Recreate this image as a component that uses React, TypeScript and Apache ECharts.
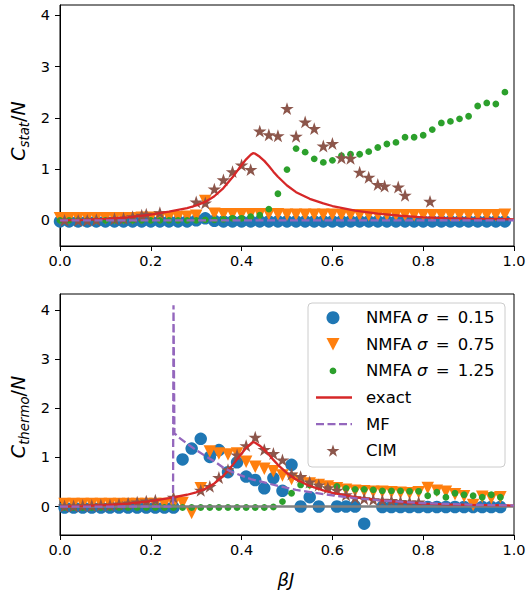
import React, { useEffect, useRef } from "react";
import * as echarts from "echarts";

const FONT = "DejaVu Sans";

const C_BLUE = "#1f77b4";
const C_ORANGE = "#ff7f0e";
const C_GREEN = "#2ca02c";
const C_RED = "#d62728";
const C_PURPLE = "#9467bd";
const C_BROWN = "#8c564b";
const C_GRAY = "#7f7f7f";

// βJ grid of the statistical estimator (top panel)
const statBeta = [
  0, 0.02, 0.04, 0.06, 0.08, 0.1, 0.12, 0.14, 0.16, 0.18,
  0.2, 0.22, 0.24, 0.26, 0.28, 0.3, 0.32, 0.34, 0.36, 0.38,
  0.4, 0.42, 0.44, 0.46, 0.48, 0.5, 0.52, 0.54, 0.56, 0.58,
  0.6, 0.62, 0.64, 0.66, 0.68, 0.7, 0.72, 0.74, 0.76, 0.78,
  0.8, 0.82, 0.84, 0.86, 0.88, 0.9, 0.92, 0.94, 0.96, 0.98,
];

// βJ grid of the thermodynamic estimator (bottom panel, mid points)
const thermoBeta = [
  0.01, 0.03, 0.05, 0.07, 0.09, 0.11, 0.13, 0.15, 0.17, 0.19,
  0.21, 0.23, 0.25, 0.27, 0.29, 0.31, 0.33, 0.35, 0.37, 0.39,
  0.41, 0.43, 0.45, 0.47, 0.49, 0.51, 0.53, 0.55, 0.57, 0.59,
  0.61, 0.63, 0.65, 0.67, 0.69, 0.71, 0.73, 0.75, 0.77, 0.79,
  0.81, 0.83, 0.85, 0.87, 0.89, 0.91, 0.93, 0.95, 0.97,
];

// C_stat / N
const statNmfa015 = [
  -0.02, -0.02, -0.02, -0.02, -0.02, -0.02, -0.02, -0.02, -0.02, -0.02,
  -0.02, -0.02, -0.02, -0.02, -0.02, 0.0, 0.04, -0.01, -0.02, -0.02,
  -0.02, -0.02, -0.02, -0.02, -0.02, -0.02, -0.02, -0.02, -0.02, -0.02,
  -0.02, -0.02, -0.02, -0.02, -0.02, -0.02, -0.02, -0.02, -0.02, -0.02,
  -0.02, -0.02, -0.02, -0.02, -0.02, -0.02, -0.02, -0.02, -0.02, -0.02,
];
const statNmfa075 = [
  0.04, 0.04, 0.04, 0.04, 0.04, 0.04, 0.04, 0.04, 0.04, 0.05,
  0.05, 0.05, 0.06, 0.06, 0.07, 0.09, 0.38, 0.13, 0.12, 0.12,
  0.12, 0.12, 0.12, 0.12, 0.12, 0.11, 0.11, 0.11, 0.11, 0.11,
  0.11, 0.1, 0.1, 0.1, 0.1, 0.1, 0.1, 0.1, 0.1, 0.1,
  0.1, 0.1, 0.1, 0.1, 0.1, 0.1, 0.1, 0.1, 0.1, 0.11,
];
const statNmfa125 = [
  0.0, 0.0, 0.0, 0.0, 0.0, 0.0, 0.0, 0.0, 0.0, 0.0,
  0.0, 0.0, 0.0, 0.0, 0.0, 0.0, 0.01, 0.01, 0.02, 0.04,
  0.04, 0.07, 0.1, 0.22, 0.52, 0.99, 1.4, 1.33, 1.2, 1.13,
  1.17, 1.26, 1.29, 1.29, 1.34, 1.42, 1.49, 1.52, 1.62, 1.62,
  1.66, 1.77, 1.9, 1.93, 1.98, 2.03, 2.23, 2.29, 2.27, 2.5,
];
const statCimBeta = [
  0.01, 0.04, 0.06, 0.08, 0.12, 0.14, 0.16, 0.18, 0.19, 0.22,
  0.3, 0.32, 0.34, 0.36, 0.38, 0.4, 0.42, 0.44, 0.46, 0.48,
  0.5, 0.52, 0.54, 0.56, 0.58, 0.6, 0.62, 0.64, 0.66, 0.68,
  0.7, 0.715, 0.745, 0.76, 0.815,
];
const statCim = [
  0.0, 0.0, 0.0, 0.01, 0.03, 0.04, 0.07, 0.1, 0.12, 0.15,
  0.36, 0.34, 0.61, 0.79, 0.95, 1.08, 0.99, 1.74, 1.67, 1.65,
  2.18, 1.64, 1.92, 1.79, 1.45, 1.5, 1.22, 1.21, 0.94, 0.84,
  0.7, 0.67, 0.65, 0.49, 0.37,
];
const statMfBeta = [0, 1];
const statMf = [0, 0];

// exact solution, shared by both panels
const exactBeta = [
  0, 0.05, 0.1, 0.15, 0.2, 0.24, 0.28, 0.3, 0.32, 0.34,
  0.36, 0.38, 0.39, 0.4, 0.41, 0.42, 0.425, 0.43, 0.44, 0.45,
  0.46, 0.47, 0.48, 0.5, 0.52, 0.55, 0.58, 0.6, 0.65, 0.7,
  0.75, 0.8, 0.85, 0.9, 0.95, 1.0,
];
const exactC = [
  0, 0.01, 0.03, 0.06, 0.11, 0.17, 0.24, 0.29, 0.36, 0.47,
  0.63, 0.84, 0.96, 1.08, 1.19, 1.28, 1.31, 1.3, 1.24, 1.16,
  1.06, 0.95, 0.85, 0.68, 0.55, 0.42, 0.33, 0.28, 0.19, 0.13,
  0.09, 0.06, 0.045, 0.035, 0.03, 0.02,
];

// C_thermo / N
const thermoNmfa015 = [
  -0.02, -0.02, -0.02, -0.02, -0.02, -0.02, -0.02, -0.02, -0.02, -0.02,
  -0.02, -0.02, -0.02, 0.96, 1.18, 1.38, 1.01, 1.15, 0.7, 0.9,
  0.61, 0.54, 0.37, 0.58, 0.32, 0.85, 0.0, 0.19, 0.0, null,
  0.0, 0.0, 0.0, -0.35, null, -0.01, -0.01, -0.01, -0.01, -0.01,
  -0.01, -0.01, -0.01, -0.01, -0.01, -0.01, -0.01, -0.01, -0.01,
];
const thermoNmfa075 = [
  0.05, 0.05, 0.05, 0.05, 0.05, 0.05, 0.05, 0.05, 0.05, 0.05,
  0.05, 0.05, 0.05, 0.07, -0.13, 0.37, 1.12, 1.08, 1.06, 1.08,
  0.91, 0.81, 0.77, 0.72, 0.63, 0.56, 0.51, 0.47, 0.44, 0.41,
  0.37, 0.34, 0.32, 0.31, 0.3, 0.3, 0.29, 0.28, 0.27, 0.29,
  0.38, 0.32, 0.3, 0.25, 0.21, 0.03, 0.2, 0.17, 0.19,
];
const thermoNmfa125 = [
  -0.02, -0.02, -0.02, -0.02, -0.02, -0.02, -0.02, -0.02, -0.02, -0.02,
  -0.02, -0.02, -0.02, -0.02, -0.02, -0.02, -0.02, -0.02, -0.02, -0.02,
  -0.02, -0.02, -0.02, -0.01, 0.1, 0.27, 0.44, 0.44, 0.41, 0.37,
  0.41, 0.37, 0.35, 0.35, 0.34, 0.32, 0.32, 0.32, 0.31, 0.31,
  0.22, 0.29, 0.19, 0.27, 0.24, 0.22, 0.19, 0.24, 0.19,
];
const thermoCim = [
  0.01, 0.01, 0.02, 0.02, 0.03, 0.03, 0.05, 0.07, 0.09, 0.11,
  0.13, null, 0.19, null, null, 0.33, 0.41, 0.59, 0.75, 1.05,
  1.24, 1.41, 1.16, 1.08, 0.95, 0.66, 0.61, 0.5, 0.44, 0.38,
  0.33, 0.24, 0.18, 0.16, 0.14, 0.13, 0.12, 0.1, 0.09, 0.09,
  null, null, null, null, null, null, null, null, null,
];
const thermoMfBeta = [
  0, 0.249, 0.25, 0.252, 0.26, 0.28, 0.3, 0.32, 0.34, 0.36,
  0.38, 0.4, 0.42, 0.45, 0.48, 0.52, 0.56, 0.6, 0.65, 0.7,
  0.75, 0.8, 0.85, 0.9, 0.95, 1.0,
];
const thermoMf = [
  0, 0, 4.1, 1.5, 1.42, 1.28, 1.15, 1.03, 0.92, 0.79,
  0.7, 0.63, 0.56, 0.49, 0.42, 0.34, 0.28, 0.23, 0.17, 0.13,
  0.1, 0.07, 0.055, 0.04, 0.03, 0.02,
];
const zeroBeta = [0, 1];
const zeroC = [0, 0];

const yTicks = [0, 1, 2, 3, 4];

const legendLabels = [
  ["NMFA ", "σ", "\u2002=\u20020.15"],
  ["NMFA ", "σ", "\u2002=\u20020.75"],
  ["NMFA ", "σ", "\u2002=\u20021.25"],
  ["exact", "", ""],
  ["MF", "", ""],
  ["CIM", "", ""],
];

const STAR_PATH =
  "path://M0,-10L2.245,-3.09L9.511,-3.09L3.633,1.18L5.878,8.09L0,3.82L-5.878,8.09L-3.633,1.18L-9.511,-3.09L-2.245,-3.09Z";

function pairs(xs: number[], ys: (number | null)[]) {
  const out: number[][] = [];
  xs.forEach((x, i) => {
    const y = ys[i];
    if (y !== null && y !== undefined) out.push([x, y]);
  });
  return out;
}

function starPoints(cx: number, cy: number, R: number) {
  const pts: number[][] = [];
  const r = R * 0.382;
  for (let k = 0; k < 10; k++) {
    const a = -Math.PI / 2 + (k * Math.PI) / 5;
    const rr = k % 2 === 0 ? R : r;
    pts.push([cx + rr * Math.cos(a), cy + rr * Math.sin(a)]);
  }
  return pts;
}

function xAxisOf(gridIndex: number) {
  return {
    type: "value",
    gridIndex,
    min: 0,
    max: 1,
    interval: 0.2,
    axisLine: { show: true, onZero: false, lineStyle: { color: "#000", width: 1 } },
    axisTick: { show: true, inside: false, length: 5, lineStyle: { color: "#000", width: 1 } },
    axisLabel: {
      color: "#000",
      fontFamily: FONT,
      fontSize: 14.5,
      margin: 7,
      showMaxLabel: true,
      showMinLabel: true,
      formatter: (v: number) => v.toFixed(1),
    },
    splitLine: { show: false },
  };
}

function yAxisOf(gridIndex: number, min: number, max: number) {
  return {
    type: "value",
    gridIndex,
    min,
    max,
    axisLine: { show: true, onZero: false, lineStyle: { color: "#000", width: 1 } },
    axisTick: {
      show: true,
      inside: false,
      length: 5,
      customValues: yTicks,
      lineStyle: { color: "#000", width: 1 },
    },
    axisLabel: {
      color: "#000",
      fontFamily: FONT,
      fontSize: 14.5,
      margin: 10,
      customValues: yTicks,
    },
    splitLine: { show: false },
  };
}

function scatter(idx: number, data: number[][], color: string, symbol: string, size: any, rotate = 0) {
  return {
    type: "scatter",
    xAxisIndex: idx,
    yAxisIndex: idx,
    data,
    symbol,
    symbolSize: size,
    symbolRotate: rotate,
    itemStyle: { color, opacity: 1 },
    emphasis: { disabled: true },
    silent: true,
  };
}

function line(idx: number, data: number[][], color: string, width: number, dash: any = "solid") {
  return {
    type: "line",
    xAxisIndex: idx,
    yAxisIndex: idx,
    data,
    symbol: "none",
    showSymbol: false,
    smooth: false,
    lineStyle: { color, width, type: dash },
    emphasis: { disabled: true },
    silent: true,
  };
}

function yLabel(x: number, y: number, sub: string) {
  return {
    type: "text",
    x,
    y,
    rotation: Math.PI / 2,
    style: {
      text: `{i|C}{s|${sub}}{r|/}{i|N}`,
      align: "center",
      verticalAlign: "middle",
      rich: {
        i: { fontFamily: FONT, fontStyle: "italic", fontSize: 19, lineHeight: 26, fill: "#000" },
        r: { fontFamily: FONT, fontSize: 19, lineHeight: 26, fill: "#000" },
        s: {
          fontFamily: FONT,
          fontStyle: "italic",
          fontSize: 13.3,
          lineHeight: 13,
          verticalAlign: "bottom",
          fill: "#000",
        },
      },
    },
  };
}

function legendGraphic() {
  const x0 = 308;
  const y0 = 303;
  const w = 197;
  const h = 164;
  const mx = 333;
  const tx = 366;
  const rows = legendLabels.map((_, k) => 317.7 + k * 26.6);
  const children: any[] = [
    {
      type: "rect",
      shape: { x: x0, y: y0, width: w, height: h, r: 4 },
      style: { fill: "rgba(255,255,255,0.8)", stroke: "#cccccc", lineWidth: 1 },
    },
    { type: "circle", shape: { cx: mx, cy: rows[0], r: 6.5 }, style: { fill: C_BLUE } },
    {
      type: "polygon",
      shape: {
        points: [
          [mx - 6.5, rows[1] - 6.3],
          [mx + 6.5, rows[1] - 6.3],
          [mx, rows[1] + 6.3],
        ],
      },
      style: { fill: C_ORANGE },
    },
    { type: "circle", shape: { cx: mx, cy: rows[2], r: 3.4 }, style: { fill: C_GREEN } },
    {
      type: "line",
      shape: { x1: mx - 17, y1: rows[3], x2: mx + 19, y2: rows[3] },
      style: { stroke: C_RED, lineWidth: 2.3 },
    },
    {
      type: "line",
      shape: { x1: mx - 17, y1: rows[4], x2: mx + 19, y2: rows[4] },
      style: { stroke: C_PURPLE, lineWidth: 2.3, lineDash: [8, 3.5] },
    },
    {
      type: "polygon",
      shape: { points: starPoints(mx, rows[5] + 0.5, 6.8) },
      style: { fill: C_BROWN },
    },
  ];
  legendLabels.forEach((parts, k) => {
    children.push({
      type: "text",
      x: tx,
      y: rows[k],
      style: {
        text: `{a|${parts[0]}}` + (parts[1] ? `{b|${parts[1]}}{a|${parts[2]}}` : ""),
        verticalAlign: "middle",
        align: "left",
        rich: {
          a: { fontFamily: FONT, fontSize: 16.5, fill: "#000" },
          b: { fontFamily: FONT, fontSize: 16.5, fontStyle: "italic", fill: "#000" },
        },
      },
    });
  });
  return { type: "group", children };
}

export default function App() {
  const ref = useRef<HTMLDivElement>(null);

  useEffect(() => {
    if (!ref.current) return;
    const chart = echarts.init(ref.current, null, { renderer: "svg" });

    const option: any = {
      animation: false,
      backgroundColor: "#fff",
      grid: [
        { left: 60, top: 5, width: 454, height: 241, show: true, borderColor: "#000", borderWidth: 1, backgroundColor: "transparent" },
        { left: 60, top: 294, width: 454, height: 241, show: true, borderColor: "#000", borderWidth: 1, backgroundColor: "transparent" },
      ],
      xAxis: [xAxisOf(0), xAxisOf(1)],
      yAxis: [yAxisOf(0, -0.5, 4.2), yAxisOf(1, -0.58, 4.33)],
      series: [
        // top panel
        scatter(0, pairs(statBeta, statNmfa015), C_BLUE, "circle", 12.5),
        scatter(0, pairs(statBeta, statNmfa075), C_ORANGE, "triangle", 12.5, 180),
        scatter(0, pairs(statBeta, statNmfa125), C_GREEN, "circle", 6.8),
        line(0, pairs(exactBeta, exactC), C_RED, 2.3),
        line(0, pairs(statMfBeta, statMf), C_PURPLE, 2.3, [8, 3.5]),
        scatter(0, pairs(statCimBeta, statCim), C_BROWN, STAR_PATH, [13.5, 12.9]),
        // bottom panel
        scatter(1, pairs(thermoBeta, thermoNmfa015), C_BLUE, "circle", 12.5),
        scatter(1, pairs(thermoBeta, thermoNmfa075), C_ORANGE, "triangle", 12.5, 180),
        scatter(1, pairs(thermoBeta, thermoNmfa125), C_GREEN, "circle", 6.8),
        line(1, pairs(zeroBeta, zeroC), C_GRAY, 2.5),
        line(1, pairs(exactBeta, exactC), C_RED, 2.3),
        line(1, pairs(thermoMfBeta, thermoMf), C_PURPLE, 2.3, [8, 3.5]),
        scatter(1, pairs(thermoBeta, thermoCim), C_BROWN, STAR_PATH, [13.5, 12.9]),
      ],
      graphic: [
        yLabel(18, 131, "stat"),
        yLabel(18, 417, "thermo"),
        {
          type: "text",
          x: 286,
          y: 579,
          style: {
            text: "βJ",
            fontFamily: FONT,
            fontStyle: "italic",
            fontSize: 18,
            fill: "#000",
            align: "center",
            verticalAlign: "middle",
          },
        },
        legendGraphic(),
      ],
    };

    chart.setOption(option);
    return () => chart.dispose();
  }, []);

  return (
    <div
      ref={ref}
      style={{ position: "fixed", left: 0, top: 0, width: 530, height: 594 }}
    />
  );
}
